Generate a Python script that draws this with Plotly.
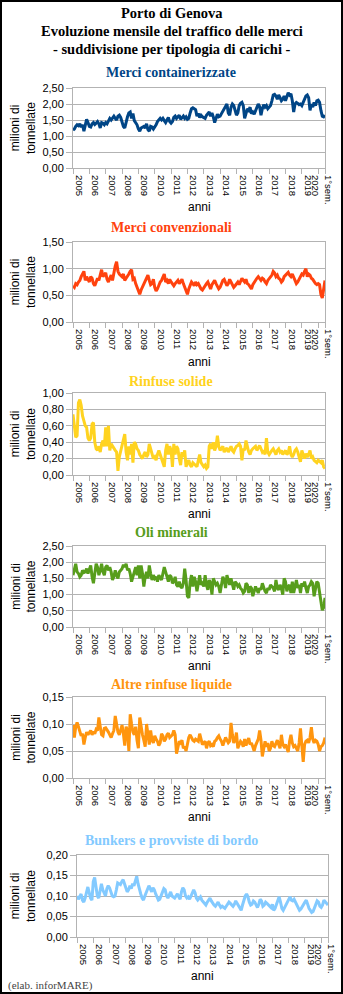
import plotly.graph_objects as go

W, H = 343, 994

# ---------------- data (monthly, Jan 2005 - Jun 2020, million tonnes) ----------------
year_labels = [str(y) for y in range(2005, 2020)] + ["1°sem.<br>2020"]

containerizzate = [
    1.18, 1.22, 1.30, 1.35, 1.32, 1.38, 1.28, 1.35, 1.15, 1.40, 1.52, 1.42,
    1.30, 1.28, 1.38, 1.42, 1.36, 1.40, 1.45, 1.38, 1.25, 1.42, 1.40, 1.35,
    1.42, 1.38, 1.48, 1.55, 1.50, 1.58, 1.62, 1.55, 1.50, 1.62, 1.65, 1.58,
    1.40, 1.30, 1.25, 1.45, 1.60, 1.72, 1.75, 1.55, 1.70, 1.48, 1.42, 1.35,
    1.22, 1.15, 1.25, 1.28, 1.30, 1.25, 1.38, 1.20, 1.15, 1.30, 1.28, 1.22,
    1.28, 1.35, 1.45, 1.52, 1.55, 1.50, 1.55, 1.48, 1.42, 1.50, 1.58, 1.45,
    1.40, 1.45, 1.58, 1.62, 1.55, 1.60, 1.65, 1.52, 1.58, 1.62, 1.55, 1.60,
    1.52, 1.55, 1.72, 1.85, 1.88, 1.86, 1.82, 1.62, 1.70, 1.58, 1.65, 1.60,
    1.58, 1.55, 1.65, 1.70, 1.75, 1.62, 1.72, 1.60, 1.42, 1.55, 1.68, 1.60,
    1.62, 1.70, 1.78, 1.85, 1.95, 2.00, 1.72, 1.65, 1.90, 2.00, 1.95, 1.80,
    1.65, 1.72, 1.95, 2.02, 2.05, 1.95, 1.55, 1.70, 1.85, 1.80, 1.90, 1.70,
    1.75, 1.68, 1.80, 1.95, 2.00, 1.92, 1.65, 1.85, 1.98, 1.90, 1.95, 1.85,
    1.90, 1.95, 2.10, 2.28, 2.30, 2.25, 2.15, 2.28, 2.20, 2.10, 2.15, 2.25,
    2.10, 2.22, 2.35, 2.28, 2.32, 2.10, 1.75, 2.00, 2.05, 2.02, 1.98, 2.00,
    1.95, 2.05, 2.15, 2.25, 2.28, 2.20, 1.80, 2.00, 1.90, 2.05, 1.95, 2.10,
    2.12, 2.05, 1.80, 1.62, 1.60, 1.65,
]

convenzionali = [
    0.68, 0.65, 0.72, 0.70, 0.75, 0.78, 0.85, 0.92, 0.95, 0.78, 0.85, 0.80,
    0.75, 0.85, 0.82, 0.72, 0.68, 0.75, 0.82, 0.78, 0.88, 0.98, 0.85, 0.90,
    0.92, 0.80, 0.75, 0.82, 0.88, 0.78, 0.95, 1.05, 1.13, 0.95, 0.90, 0.88,
    0.85, 0.90, 0.78, 0.82, 0.85, 0.90, 0.95, 0.98, 0.80, 0.82, 0.72, 0.65,
    0.55, 0.52, 0.60, 0.65, 0.70, 0.75, 0.82, 0.88, 0.78, 0.70, 0.72, 0.80,
    0.65, 0.58, 0.62, 0.70, 0.75, 0.78, 0.85, 0.90, 0.75, 0.78, 0.72, 0.80,
    0.75, 0.70, 0.68, 0.72, 0.75, 0.78, 0.72, 0.75, 0.80, 0.72, 0.65, 0.55,
    0.52, 0.62, 0.70, 0.75, 0.72, 0.68, 0.75, 0.70, 0.72, 0.65, 0.62, 0.60,
    0.65, 0.70, 0.72, 0.75, 0.68, 0.62, 0.70, 0.75, 0.78, 0.72, 0.65, 0.62,
    0.65, 0.72, 0.78, 0.80, 0.75, 0.68, 0.72, 0.80, 0.75, 0.70, 0.65, 0.68,
    0.72, 0.75, 0.70, 0.78, 0.82, 0.78, 0.75, 0.80, 0.72, 0.70, 0.65, 0.62,
    0.70, 0.75, 0.78, 0.82, 0.85, 0.80, 0.78, 0.82, 0.80, 0.75, 0.72, 0.78,
    0.82, 0.85, 0.88, 0.95, 0.92, 0.85, 0.88, 0.82, 0.80, 0.75, 0.78, 0.85,
    0.88, 0.90, 0.93, 0.88, 0.85, 0.90, 0.85, 0.78, 0.72, 0.75, 0.82, 0.85,
    0.90, 0.88, 0.95, 1.00, 0.85, 0.90, 0.88, 0.82, 0.80, 0.75, 0.72, 0.70,
    0.72, 0.70, 0.52, 0.45, 0.62, 0.78,
]

rinfuse_solide = [
    0.74, 0.62, 0.46, 0.48, 0.88, 0.92, 0.85, 0.72, 0.65, 0.60, 0.58, 0.45,
    0.42, 0.45, 0.62, 0.64, 0.40, 0.32, 0.30, 0.35, 0.28, 0.38, 0.42, 0.35,
    0.58, 0.35, 0.60, 0.30, 0.38, 0.35, 0.33, 0.30, 0.28, 0.05, 0.22, 0.30,
    0.35, 0.45, 0.50, 0.28, 0.18, 0.35, 0.25, 0.38, 0.15, 0.40, 0.38, 0.32,
    0.30, 0.25, 0.22, 0.20, 0.25, 0.28, 0.22, 0.25, 0.38, 0.32, 0.25, 0.20,
    0.22, 0.18, 0.25, 0.30, 0.25, 0.20, 0.15, 0.10, 0.30, 0.38, 0.25, 0.35,
    0.30, 0.10, 0.38, 0.25, 0.35, 0.32, 0.20, 0.12, 0.28, 0.22, 0.30, 0.10,
    0.15, 0.18, 0.12, 0.10, 0.15, 0.13, 0.12, 0.10, 0.18, 0.25, 0.15, 0.12,
    0.10, 0.12, 0.08, 0.10, 0.35, 0.38, 0.32, 0.40, 0.30, 0.35, 0.48, 0.35,
    0.30, 0.32, 0.35, 0.28, 0.30, 0.33, 0.28, 0.32, 0.35, 0.30, 0.28, 0.32,
    0.35, 0.36, 0.38, 0.35, 0.18, 0.32, 0.30, 0.42, 0.35, 0.28, 0.25, 0.30,
    0.32, 0.33, 0.35, 0.30, 0.34, 0.36, 0.32, 0.28, 0.30, 0.25, 0.45, 0.28,
    0.25, 0.28, 0.30, 0.32, 0.28, 0.25, 0.30, 0.32, 0.28, 0.30, 0.25, 0.28,
    0.30, 0.25, 0.27, 0.35, 0.25, 0.22, 0.25, 0.30, 0.32, 0.28, 0.22, 0.16,
    0.30, 0.25, 0.20, 0.26, 0.22, 0.25, 0.30, 0.20, 0.22, 0.18, 0.16, 0.15,
    0.18, 0.16, 0.15, 0.18, 0.10, 0.08,
]

oli_minerali = [
    1.60, 1.75, 1.95, 1.70, 1.65, 1.55, 1.60, 1.75, 1.68, 1.70, 1.80, 1.65,
    1.78, 1.90, 1.55, 1.35, 1.65, 1.95, 1.85, 1.60, 1.75, 1.95, 1.70, 1.60,
    1.85, 1.90, 1.75, 1.85, 1.70, 1.45, 1.55, 1.75, 1.60, 1.50, 1.70, 1.75,
    1.80, 1.92, 1.85, 1.95, 1.75, 1.80, 1.65, 1.40, 1.55, 1.75, 1.85, 1.60,
    1.90, 1.50, 1.90, 1.65, 1.25, 1.55, 1.70, 1.50, 1.90, 1.65, 1.45, 1.60,
    1.50, 1.55, 1.40, 1.60, 1.50, 1.45, 1.65, 1.85, 1.70, 1.55, 1.40, 1.60,
    1.55, 1.35, 1.40, 1.55, 1.30, 1.25, 1.40, 1.25, 1.20, 1.35, 1.80, 1.45,
    0.95, 0.90, 1.40, 1.60, 1.25, 1.55, 1.40, 1.10, 1.35, 1.60, 1.30, 1.35,
    1.25, 1.60, 1.30, 1.15, 1.45, 1.35, 1.00, 1.50, 1.40, 1.30, 1.35, 1.25,
    1.05, 1.30, 1.55, 1.45, 1.20, 1.60, 1.40, 1.30, 1.50, 1.35, 1.15, 1.40,
    1.35, 1.25, 1.30, 1.20, 1.15, 1.05, 1.10, 1.35, 1.30, 1.05, 1.25, 1.20,
    0.95, 1.10, 1.25, 1.15, 1.05, 1.20, 1.15, 1.35, 1.20, 1.10, 1.05, 1.20,
    1.15, 1.30, 1.25, 1.20, 1.10, 1.45, 1.20, 1.15, 1.30, 1.20, 1.00, 1.50,
    1.40, 1.10, 1.25, 1.30, 1.05, 1.40, 1.05, 1.25, 1.45, 1.20, 1.30, 1.05,
    1.35, 1.25, 1.40, 1.20, 1.05, 1.25, 1.30, 1.40, 1.35, 0.95, 1.15, 1.40,
    1.35, 1.05, 0.75, 0.52, 0.60, 0.90,
]

altre_rinfuse_liquide = [
    0.098, 0.075, 0.095, 0.103, 0.095, 0.088, 0.078, 0.082, 0.062, 0.075, 0.085, 0.080,
    0.085, 0.088, 0.080, 0.086, 0.082, 0.090, 0.088, 0.112, 0.095, 0.080, 0.078, 0.092,
    0.093, 0.090, 0.085, 0.080, 0.075, 0.082, 0.088, 0.115, 0.095, 0.085, 0.080, 0.088,
    0.098, 0.082, 0.060, 0.095, 0.088, 0.050, 0.118, 0.100, 0.085, 0.080, 0.095, 0.070,
    0.055, 0.112, 0.090, 0.080, 0.070, 0.058, 0.100, 0.078, 0.062, 0.088, 0.070, 0.065,
    0.078, 0.072, 0.068, 0.060, 0.065, 0.082, 0.078, 0.068, 0.072, 0.080, 0.083, 0.075,
    0.078, 0.080, 0.088, 0.080, 0.045, 0.060, 0.068, 0.065, 0.070, 0.055, 0.058, 0.050,
    0.065, 0.075, 0.080, 0.073, 0.070, 0.068, 0.072, 0.070, 0.068, 0.082, 0.070, 0.062,
    0.065, 0.068, 0.055, 0.065, 0.068, 0.060, 0.062, 0.058, 0.068, 0.070, 0.075, 0.078,
    0.072, 0.068, 0.060, 0.068, 0.075, 0.070, 0.065, 0.068, 0.102, 0.080, 0.065, 0.070,
    0.084, 0.055, 0.060, 0.068, 0.065, 0.058, 0.072, 0.060, 0.068, 0.074, 0.062, 0.065,
    0.058, 0.050, 0.060, 0.068, 0.072, 0.088, 0.070, 0.040, 0.055, 0.068, 0.058, 0.065,
    0.050, 0.055, 0.068, 0.060, 0.058, 0.065, 0.070, 0.062, 0.055, 0.080, 0.062, 0.058,
    0.062, 0.055, 0.048, 0.068, 0.080, 0.065, 0.058, 0.060, 0.055, 0.050, 0.065, 0.092,
    0.060, 0.030, 0.062, 0.068, 0.070, 0.065, 0.075, 0.094, 0.072, 0.065, 0.070, 0.068,
    0.062, 0.050, 0.058, 0.060, 0.065, 0.075,
]

bunkers = [
    0.100, 0.092, 0.098, 0.105, 0.090, 0.085, 0.095, 0.110, 0.122, 0.108, 0.095, 0.090,
    0.135, 0.145, 0.120, 0.100, 0.095, 0.110, 0.130, 0.115, 0.105, 0.100, 0.118, 0.125,
    0.120, 0.112, 0.100, 0.098, 0.100, 0.115, 0.132, 0.130, 0.128, 0.135, 0.140, 0.130,
    0.120, 0.110, 0.115, 0.125, 0.118, 0.130, 0.125, 0.140, 0.148, 0.130, 0.115, 0.105,
    0.095, 0.090, 0.100, 0.110, 0.115, 0.125, 0.118, 0.110, 0.120, 0.115, 0.105, 0.095,
    0.090, 0.092, 0.100, 0.112, 0.118, 0.115, 0.100, 0.095, 0.105, 0.110, 0.100, 0.098,
    0.095, 0.100, 0.105, 0.098, 0.092, 0.110, 0.120, 0.115, 0.100, 0.095, 0.098, 0.092,
    0.100, 0.110, 0.115, 0.108, 0.095, 0.090, 0.095, 0.098, 0.090, 0.085, 0.080, 0.078,
    0.085, 0.090, 0.095, 0.088, 0.082, 0.078, 0.075, 0.080, 0.085, 0.078, 0.072, 0.075,
    0.072, 0.070, 0.075, 0.080, 0.085, 0.082, 0.078, 0.075, 0.080, 0.088, 0.082, 0.075,
    0.070, 0.065, 0.078, 0.090, 0.100, 0.105, 0.098, 0.085, 0.078, 0.080, 0.088, 0.085,
    0.078, 0.072, 0.080, 0.092, 0.088, 0.075, 0.078, 0.085, 0.082, 0.078, 0.075, 0.072,
    0.080, 0.065, 0.070, 0.078, 0.090, 0.098, 0.085, 0.070, 0.065, 0.072, 0.080, 0.085,
    0.095, 0.098, 0.090, 0.088, 0.092, 0.085, 0.078, 0.070, 0.065, 0.068, 0.075, 0.080,
    0.085, 0.090, 0.078, 0.070, 0.065, 0.060, 0.062, 0.070, 0.078, 0.088, 0.085, 0.075,
    0.072, 0.078, 0.090, 0.085, 0.080, 0.078,
]

months = list(range(len(containerizzate)))

# ---------------- layout helpers ----------------
panels = [
    dict(title="Merci containerizzate", data=containerizzate, color="#004586",
         ymax=2.5, dtick=0.5, x0=73, x1=325, top=88, bot=168, ty=72, ay=207),
    dict(title="Merci convenzionali", data=convenzionali, color="#ff420e",
         ymax=1.5, dtick=0.5, x0=73, x1=325, top=242, bot=322, ty=227, ay=362),
    dict(title="Rinfuse solide", data=rinfuse_solide, color="#ffd320",
         ymax=1.0, dtick=0.2, x0=73, x1=325, top=393, bot=475, ty=381, ay=514),
    dict(title="Oli minerali", data=oli_minerali, color="#579d1c",
         ymax=2.5, dtick=0.5, x0=73, x1=325, top=546, bot=627, ty=532, ay=666),
    dict(title="Altre rinfuse liquide", data=altre_rinfuse_liquide, color="#ff950e",
         ymax=0.15, dtick=0.05, x0=73, x1=325, top=697, bot=778, ty=684, ay=817),
    dict(title="Bunkers e provviste di bordo", data=bunkers, color="#83caff",
         ymax=0.20, dtick=0.05, x0=77, x1=328, top=855, bot=937, ty=840, ay=976),
]

def px_x(v):
    return v / W

def px_y(v):
    return 1 - v / H

n = len(months)
last = n - 1
label_pos = [12 * k + 4.5 for k in range(15)] + [last - 2.5]
tick_marks = [12 * k for k in range(16)] + [last]

GRID = "#b3b3b3"
SANS = "Liberation Sans, Arial, sans-serif"
SERIF = "Liberation Serif, Times New Roman, serif"

fig = go.Figure()
layout = dict(
    width=W, height=H, margin=dict(l=0, r=0, t=0, b=0, autoexpand=False),
    paper_bgcolor="white", plot_bgcolor="white",
    showlegend=False, separators=",.",
)
annotations = []

for i, p in enumerate(panels):
    k = i + 1
    xs = "" if k == 1 else str(k)
    fig.add_trace(go.Scatter(
        x=months, y=p["data"], mode="lines",
        line=dict(color=p["color"], width=3),
        xaxis="x" + xs, yaxis="y" + xs, hoverinfo="skip",
    ))
    layout["xaxis" + xs] = dict(
        domain=[px_x(p["x0"]), px_x(p["x1"])], anchor="y" + xs,
        range=[0, last], showgrid=False, zeroline=False, automargin=False,
        showline=True, mirror=True, linecolor=GRID, linewidth=1,
        tickmode="array", tickvals=label_pos, ticktext=year_labels,
        ticks="", tickangle=90, ticklabelstandoff=4,
        tickfont=dict(family=SANS, size=9.5, color="#000"),
        minor=dict(tickmode="array", tickvals=tick_marks, ticks="outside",
                   ticklen=5, tickcolor=GRID, showgrid=False),
        fixedrange=True,
    )
    layout["yaxis" + xs] = dict(
        domain=[px_y(p["bot"]), px_y(p["top"])], anchor="x" + xs,
        range=[0, p["ymax"]], dtick=p["dtick"], tick0=0, tickformat=".2f",
        showgrid=True, gridcolor=GRID, gridwidth=1, zeroline=False, automargin=False,
        showline=True, mirror=True, linecolor=GRID, linewidth=1,
        ticks="outside", ticklen=6, tickcolor=GRID,
        tickfont=dict(family=SANS, size=11, color="#000"),
        fixedrange=True,
    )
    annotations.append(dict(
        text="<b>" + p["title"] + "</b>", x=px_x(171), y=px_y(p["ty"]),
        xref="paper", yref="paper", xanchor="center", yanchor="middle",
        showarrow=False, font=dict(family=SERIF, size=14, color=p["color"]),
    ))
    annotations.append(dict(
        text="anni", x=px_x((p["x0"] + p["x1"]) / 2), y=px_y(p["ay"]),
        xref="paper", yref="paper", xanchor="center", yanchor="middle",
        showarrow=False, font=dict(family=SANS, size=12, color="#000"),
    ))
    annotations.append(dict(
        text="milioni di<br>tonnellate", x=px_x(23), y=px_y((p["top"] + p["bot"]) / 2),
        xref="paper", yref="paper", xanchor="center", yanchor="middle",
        textangle=-90, showarrow=False,
        font=dict(family=SANS, size=12, color="#000"),
    ))

title_lines = ["Porto di Genova",
               "Evoluzione mensile del traffico delle merci",
               "- suddivisione per tipologia di carichi -"]
for line, yc in zip(title_lines, [13, 31, 49]):
    annotations.append(dict(
        text="<b>" + line + "</b>", x=px_x(171.5), y=px_y(yc),
        xref="paper", yref="paper", xanchor="center", yanchor="middle",
        showarrow=False, font=dict(family=SERIF, size=14.5, color="#000"),
    ))

annotations.append(dict(
    text="(elab. inforMARE)", x=px_x(6), y=px_y(985),
    xref="paper", yref="paper", xanchor="left", yanchor="middle",
    showarrow=False, font=dict(family=SERIF, size=11, color="#444"),
))

layout["annotations"] = annotations
layout["shapes"] = [dict(type="rect", xref="paper", yref="paper",
                         x0=px_x(1), x1=px_x(W - 1), y0=px_y(H - 1), y1=px_y(1),
                         line=dict(color="#000", width=2), fillcolor="rgba(0,0,0,0)")]

fig.update_layout(**layout)
fig.write_html("out.html", config={"displayModeBar": False})
